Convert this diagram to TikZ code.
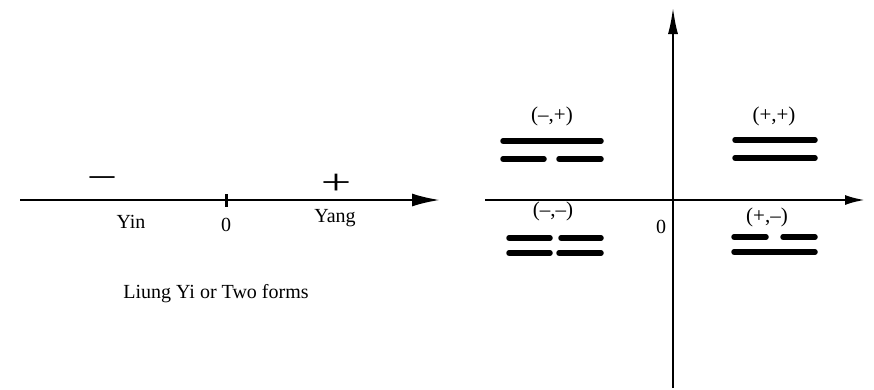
\documentclass[tikz,border=0pt]{standalone}
\usepackage{fontspec}
\setmainfont{Liberation Serif}
\usetikzlibrary{arrows.meta,positioning}
\tikzset{
  axis/.style={line width=2.4pt},
  yao/.style={line width=5.5pt,line cap=round},
  lbl/.style={inner sep=0pt,font=\fontsize{20}{22}\selectfont},
  qlbl/.style={inner sep=0pt,font=\fontsize{21}{23}\selectfont},
  sgn/.style={inner sep=0pt,font=\fontsize{36}{36}\selectfont}
}
\newcommand{\widesign}[1]{\scalebox{1.5}[1]{#1}}
\begin{document}
\begin{tikzpicture}[x=1pt,y=-1pt]
\useasboundingbox (0,0) rectangle (874,389);
% Liang Yi line
\coordinate (L0) at (20,200);
\coordinate (L1) at (440,200);
\draw[axis,-{Latex[length=28pt,width=13pt]}] (L0) -- (L1);
\coordinate (t0) at (226,194);
\coordinate (t1) at (226,207);
\draw[line width=3pt] (t0) -- (t1);
\node[sgn] (minus) at (102,183) {\widesign{−}};
\node[sgn] (plus) at (336,184) {\widesign{+}};
\node[lbl] (yin) at (131,222) {Yin};
\node[lbl] (zeroL) at (226,225) {0};
\node[lbl] (yang) at (335,218) {Yang};
\node[lbl] (title) at (216,294) {Liung Yi or Two forms};
% four forms
\coordinate (X0) at (485,200);
\coordinate (X1) at (865,200);
\coordinate (Y0) at (673,388);
\coordinate (Y1) at (673,7);
\draw[axis,-{Latex[length=20pt,width=10pt]}] (X0) -- (X1);
\draw[axis,-{Latex[length=27pt,width=10pt]}] (Y0) -- (Y1);
\node[lbl] (zeroR) at (661,227) {0};
% (-,+)
\node[qlbl] (mp) at (552,116) {(–,+)};
\draw[yao] (503,141) -- (601,141);
\draw[yao] (503,159) -- (544,159) (559,159) -- (601,159);
% (+,+)
\node[qlbl] (pp) at (774,116) {(+,+)};
\draw[yao] (735,140) -- (815,140);
\draw[yao] (735,158) -- (815,158);
% (-,-)
\node[qlbl] (mm) at (553,211) {(–,–)};
\draw[yao] (509,238) -- (550,238) (561,238) -- (601,238);
\draw[yao] (509,253) -- (550,253) (559,253) -- (601,253);
% (+,-)
\node[qlbl] (pm) at (767,217) {(+,–)};
\draw[yao] (734,237) -- (766,237) (783,237) -- (815,237);
\draw[yao] (734,252) -- (815,252);
\end{tikzpicture}
\end{document}
